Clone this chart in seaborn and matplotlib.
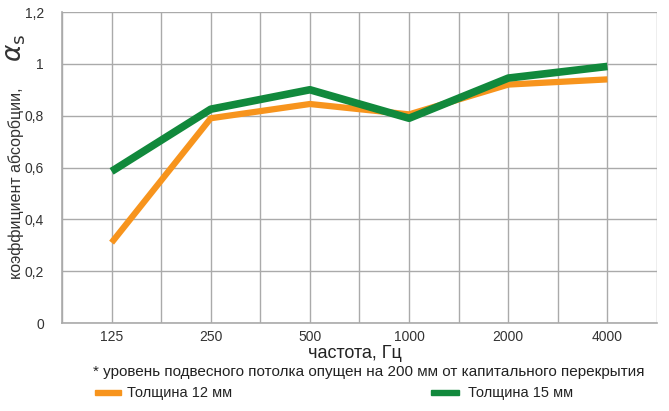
import matplotlib
matplotlib.use("Agg")
import matplotlib.pyplot as plt
import seaborn as sns
import pandas as pd
import numpy as np

freqs = ["125", "250", "500", "1000", "2000", "4000"]
thick12 = [0.31, 0.79, 0.845, 0.805, 0.92, 0.94]
thick15 = [0.585, 0.825, 0.90, 0.79, 0.945, 0.99]
series_names = ["Толщина 12 мм", "Толщина 15 мм"]
yticks = [0, 0.2, 0.4, 0.6, 0.8, 1.0, 1.2]
ytick_labels = ["0", "0,2", "0,4", "0,6", "0,8", "1", "1,2"]

sns.set_theme(style="white")
plt.rcParams['font.family'] = ['Liberation Sans', 'DejaVu Sans']

df = pd.DataFrame({
    "pos": list(range(len(freqs))) * 2,
    "val": thick12 + thick15,
    "series": [series_names[0]] * len(freqs) + [series_names[1]] * len(freqs),
})

colors = {series_names[0]: "#F7941D", series_names[1]: "#11893C"}

fig = plt.figure(figsize=(6.69, 4.11), dpi=100)
ax = fig.add_axes([62/669, 1-323/411, (657-62)/669, (323-12)/411])

for name, lw in [(series_names[0], 4.5), (series_names[1], 5.5)]:
    sns.lineplot(data=df[df.series == name], x="pos", y="val", color=colors[name],
                 linewidth=lw, ax=ax, legend=False, solid_capstyle="butt")

ax.set_xlim(-0.5, 5.47)
ax.set_ylim(0, 1.2)
ax.set_xticks(range(len(freqs)))
ax.set_xticklabels(freqs)
ax.set_xticks(np.arange(-0.5, 5.6, 1.0), minor=True)
ax.set_yticks(yticks)
ax.set_yticklabels(ytick_labels)
ax.grid(True, which="both", axis="x", color="#aaaaaa", linewidth=1)
ax.grid(True, which="major", axis="y", color="#aaaaaa", linewidth=1)
ax.set_axisbelow(True)
ax.tick_params(axis="x", which="major", length=0, pad=5, labelsize=10, colors="#333333")
ax.tick_params(axis="x", which="minor", length=5, width=1, color="#aaaaaa", direction="out")
ax.tick_params(axis="y", which="major", length=5, width=1, color="#aaaaaa", pad=8, labelsize=10, labelcolor="#333333")
for s in ["top", "right"]:
    ax.spines[s].set_visible(False)
for s in ["left", "bottom"]:
    ax.spines[s].set_color("#aaaaaa")
    ax.spines[s].set_linewidth(1.2)
ax.set_xlabel("")
ax.set_ylabel("")

fig.text(16/669, 1-183/411, "коэффициент абсорбции,", rotation=90, ha="center", va="center",
         fontsize=11.5, color="#333333")
fig.text(16/669, 1-48/411, r"$\alpha_\mathrm{s}$", rotation=90, ha="center", va="center",
         fontsize=19, color="#333333")
fig.text(355/669, 1-353/411, "частота, Гц", ha="center", va="center", fontsize=13, color="#222222")
fig.text(369/669, 1-372/411, "* уровень подвесного потолка опущен на 200 мм от капитального перекрытия",
         ha="center", va="center", fontsize=11, color="#222222")

fig.patches.append(plt.Rectangle((95/669, 1-395/411), 26/669, 5/411, transform=fig.transFigure,
                                 color=colors[series_names[0]]))
fig.text(127/669, 1-393/411, series_names[0], ha="left", va="center", fontsize=10.5, color="#222222")
fig.patches.append(plt.Rectangle((431/669, 1-395/411), 28/669, 5/411, transform=fig.transFigure,
                                 color=colors[series_names[1]]))
fig.text(468/669, 1-393/411, series_names[1], ha="left", va="center", fontsize=10.5, color="#222222")

fig.savefig("out.png", dpi=100)
